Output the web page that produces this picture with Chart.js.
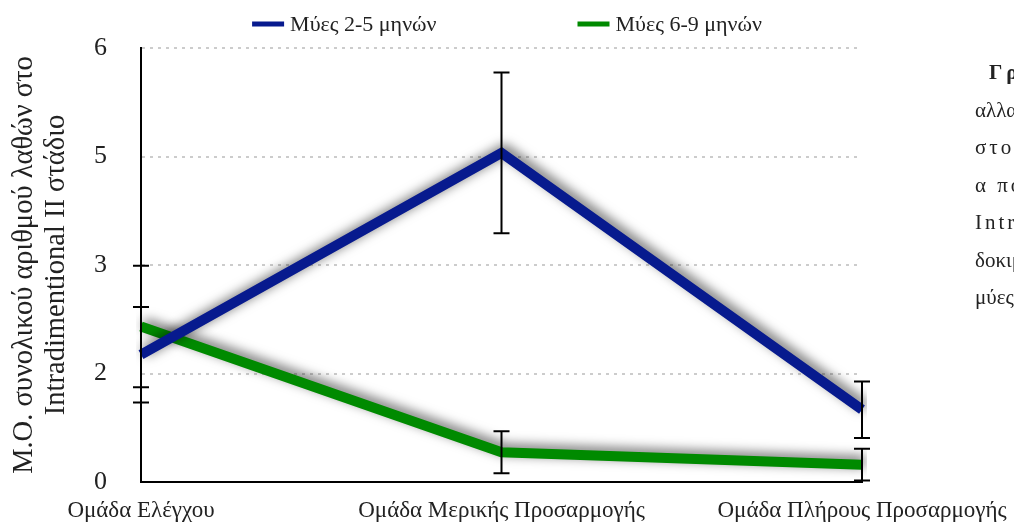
<!DOCTYPE html>
<html>
<head>
<meta charset="utf-8">
<script src="https://cdn.jsdelivr.net/npm/chart.js@4.4.0/dist/chart.umd.min.js"></script>
<style>
  html, body { margin: 0; padding: 0; background: #fff; overflow: hidden; width: 1014px; height: 522px; }
  #wrap { position: relative; width: 1014px; height: 522px; }
  #c { position: absolute; left: 0; top: 0; }
  #note {
    position: absolute; left: 975px; top: 54px;
    font-family: "Liberation Serif", serif; font-size: 21px; line-height: 37.5px;
    color: #222; white-space: nowrap;
  }
  #note .first { padding-left: 14px; }
  #note b { letter-spacing: 4px; }
  #note .sp { letter-spacing: 3px; }
</style>
</head>
<body>
<div id="wrap">
  <canvas id="c" width="1014" height="522"></canvas>
  <div id="note">
    <div class="first"><b>Γράφημα 5.</b> Μέσος όρος</div>
    <div>αλλαγής του συνολικού αριθμού</div>
    <div class="sp">στο σύνολο των δοκιμών</div>
    <div class="sp">α πό τις ομάδες στο</div>
    <div class="sp">Intradimentional II στάδιο της</div>
    <div>δοκιμασίας για τους</div>
    <div>μύες 2-5 και 6-9 μηνών.</div>
  </div>
</div>
<script>
// Groups on the x axis
const groups = ['Ομάδα Ελέγχου', 'Ομάδα Μερικής Προσαρμογής', 'Ομάδα Πλήρους Προσαρμογής'];

// Series names
const seriesNames = ['Μύες 2-5 μηνών', 'Μύες 6-9 μηνών'];

// Mean number of errors per group
const youngMeans = [1.76, 4.55, 1.00];
const olderMeans = [2.15, 0.41, 0.24];

// Half-length of the error bars
const youngErr = [0.66, 1.11, 0.39];
const olderErr = [0.84, 0.29, 0.22];

// Y axis tick labels (one per tick)
const yTickLabels = ['0', '2', '3', '5', '6'];

// Y axis title lines
const yTitleLines = ['Μ.Ο. συνολικού αριθμού λαθών στο', 'Intradimentional II στάδιο'];

const serif = '"Liberation Serif", "DejaVu Serif", serif';

// Soft drop shadow under each line
const lineShadow = {
  id: 'lineShadow',
  beforeDatasetDraw(chart) {
    const ctx = chart.ctx;
    ctx.save();
    ctx.shadowColor = 'rgba(0,0,0,0.6)';
    ctx.shadowBlur = 12;
    ctx.shadowOffsetX = 3;
    ctx.shadowOffsetY = -3;
  },
  afterDatasetDraw(chart) {
    chart.ctx.restore();
  }
};

// Vertical error bars with caps, placed through the scales
const errorBars = {
  id: 'errorBars',
  afterDatasetsDraw(chart) {
    const ctx = chart.ctx;
    const xs = chart.scales.x, ys = chart.scales.y;
    ctx.save();
    ctx.strokeStyle = '#000';
    ctx.lineWidth = 2;
    chart.data.datasets.forEach(ds => {
      ds.data.forEach((v, i) => {
        const e = ds.errors[i];
        const x = xs.getPixelForValue(i);
        const yTop = ys.getPixelForValue(v + e);
        const yBot = ys.getPixelForValue(v - e);
        const cap = 8;
        ctx.beginPath();
        ctx.moveTo(x, yTop); ctx.lineTo(x, yBot);
        ctx.moveTo(x - cap, yTop); ctx.lineTo(x + cap, yTop);
        ctx.moveTo(x - cap, yBot); ctx.lineTo(x + cap, yBot);
        ctx.stroke();
      });
    });
    ctx.restore();
  }
};

// Single-row legend across the top with wide spacing between entries
const topLegend = {
  id: 'topLegend',
  afterDraw(chart) {
    const ctx = chart.ctx;
    const fontSize = 22, lineLen = 32, gapText = 6, gapItems = 141, y = 24;
    ctx.save();
    ctx.font = fontSize + 'px ' + serif;
    ctx.textBaseline = 'middle';
    const items = chart.data.datasets.map(ds => ({
      label: ds.label, color: ds.borderColor,
      w: lineLen + gapText + ctx.measureText(ds.label).width
    }));
    const total = items.reduce((s, it) => s + it.w, 0) + gapItems * (items.length - 1);
    let x = (chart.width - total) / 2;
    items.forEach(it => {
      ctx.strokeStyle = it.color;
      ctx.lineWidth = 5;
      ctx.beginPath();
      ctx.moveTo(x, y); ctx.lineTo(x + lineLen, y);
      ctx.stroke();
      ctx.fillStyle = '#222';
      ctx.fillText(it.label, x + lineLen + gapText, y + 1);
      x += it.w + gapItems;
    });
    ctx.restore();
  }
};

new Chart(document.getElementById('c'), {
  type: 'line',
  data: {
    labels: groups,
    datasets: [
      {
        label: seriesNames[0], data: youngMeans, errors: youngErr,
        borderColor: '#071a8e', backgroundColor: '#071a8e',
        borderWidth: 10, pointRadius: 0, tension: 0,
        borderCapStyle: 'butt', borderJoinStyle: 'miter'
      },
      {
        label: seriesNames[1], data: olderMeans, errors: olderErr,
        borderColor: '#008a00', backgroundColor: '#008a00',
        borderWidth: 10, pointRadius: 0, tension: 0,
        borderCapStyle: 'butt', borderJoinStyle: 'miter'
      }
    ]
  },
  options: {
    responsive: false,
    animation: false,
    devicePixelRatio: 1,
    layout: { padding: { top: 48, right: 152, left: 0, bottom: 0 } },
    plugins: {
      legend: { display: false },
      tooltip: { enabled: false }
    },
    scales: {
      x: {
        type: 'category',
        offset: false,
        afterFit(scale) {
          scale.height = 40;
          scale.paddingLeft = 0;
          scale.paddingRight = 0;
        },
        grid: { display: false, drawTicks: false },
        border: { display: true, color: '#000', width: 2 },
        ticks: {
          color: '#222', padding: 15, maxRotation: 0, autoSkip: false,
          font: { family: serif, size: 23 }
        }
      },
      y: {
        min: 0, max: 6,
        afterFit(scale) {
          scale.width = 141;
          scale.paddingTop = 0;
          scale.paddingBottom = 0;
        },
        grid: { color: '#cccccc', lineWidth: 2, drawTicks: false },
        border: { display: true, color: '#000', width: 2, dash: [3, 5] },
        ticks: {
          stepSize: 1.5, padding: 34, color: '#222',
          font: { family: serif, size: 26 },
          callback: (value, index) => yTickLabels[index]
        },
        title: {
          display: true, text: yTitleLines, color: '#222',
          font: { family: serif, size: 28.5, lineHeight: 1.123 },
          padding: { top: 9, bottom: 0 }
        }
      }
    }
  },
  plugins: [lineShadow, errorBars, topLegend]
});
</script>
</body>
</html>
